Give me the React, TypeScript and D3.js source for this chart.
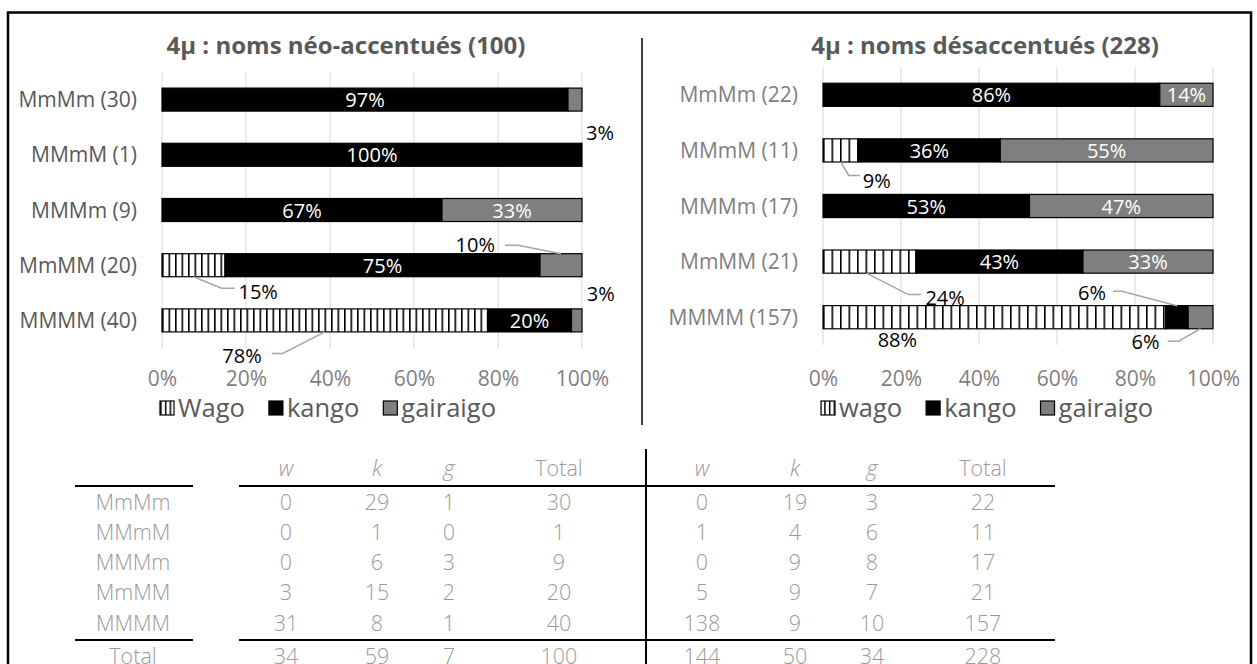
import * as React from 'react';
import * as d3 from 'd3';

const categories: string[] = ['MmMm', 'MMmM', 'MMMm', 'MmMM', 'MMMM'];

// 4μ : noms néo-accentués (100)
const neoWago: number[] = [0, 0, 0, 3, 31];
const neoKango: number[] = [29, 1, 6, 15, 8];
const neoGairaigo: number[] = [1, 0, 3, 2, 1];

// 4μ : noms désaccentués (228)
const desWago: number[] = [0, 1, 0, 5, 138];
const desKango: number[] = [19, 4, 9, 9, 9];
const desGairaigo: number[] = [3, 6, 8, 7, 10];

const tickValues: number[] = [0, 0.2, 0.4, 0.6, 0.8, 1];
const legendNeo: string[] = ['Wago', 'kango', 'gairaigo'];
const legendDes: string[] = ['wago', 'kango', 'gairaigo'];
const tableHeaders: string[] = ['w', 'k', 'g', 'Total'];

const FONT = "'Open Sans', 'DejaVu Sans', sans-serif";

// label placement: offsets from segment centre (x) and bar centre (y)
const neoCallouts: any[] = [
	{ cat: 0, s: 2, anchor: 'middle', dx: 25, dy: 33 },
	{ cat: 3, s: 0, anchor: 'start', dx: 45, dy: 27, leader: [[0, 11.5], [28, 23], [41, 23]] },
	{ cat: 3, s: 2, anchor: 'end', dx: -66, dy: -20, leader: [[0, -11.5], [-43, -20], [-56, -20]] },
	{ cat: 4, s: 0, anchor: 'end', dx: -63, dy: 35, leader: [[0, 11.5], [-42, 33], [-53, 33]] },
	{ cat: 4, s: 2, anchor: 'middle', dx: 24, dy: -27 }
];
const desCallouts: any[] = [
	{ cat: 1, s: 0, anchor: 'start', dx: 22, dy: 30, leader: [[0, 11.5], [8, 25], [19, 25]] },
	{ cat: 3, s: 0, anchor: 'start', dx: 56, dy: 36, leader: [[-3, 11.5], [39, 33], [52, 33]] },
	{ cat: 4, s: 0, anchor: 'middle', dx: -97, dy: 23 },
	{ cat: 4, s: 1, anchor: 'end', dx: -71, dy: -24, leader: [[0, -11.5], [-55, -26], [-64, -26]] },
	{ cat: 4, s: 2, anchor: 'end', dx: -41, dy: 25, leader: [[0, 11.5], [-22, 24], [-33, 24]] }
];

class StackedCharts extends React.Component {
	private svgRef = React.createRef<SVGSVGElement>();

	public render() {
		return (
			<svg
				ref={this.svgRef}
				width={1257}
				height={664}
				style={{ position: 'absolute', left: 0, top: 0, background: '#fff' }}
			/>
		);
	}

	public componentDidMount() {
		const svg = d3.select(this.svgRef.current);
		svg.selectAll('*').remove();
		const defs = svg.append('defs');

		// outer frame
		svg.append('rect')
			.attr('x', 8).attr('y', 12.5)
			.attr('width', 1243).attr('height', 700)
			.attr('fill', 'none').attr('stroke', '#000').attr('stroke-width', 2.5);

		// divider between the two charts
		svg.append('line')
			.attr('x1', 642).attr('x2', 642).attr('y1', 38).attr('y2', 425)
			.attr('stroke', '#000').attr('stroke-width', 1.5);

		this.drawChart(svg, defs, {
			id: 'neo', title: '4μ : noms néo-accentués (100)', titleX: 346,
			x0: 162, x1: 582, y0: 72, y1: 348, stripe: 6.5,
			catColor: '#595959', legend: legendNeo
		}, [neoWago, neoKango, neoGairaigo], neoCallouts);

		this.drawChart(svg, defs, {
			id: 'des', title: '4μ : noms désaccentués (228)', titleX: 985,
			x0: 823, x1: 1213, y0: 67, y1: 345, stripe: 8.5,
			catColor: '#7f7f7f', legend: legendDes
		}, [desWago, desKango, desGairaigo], desCallouts);

		this.drawTable(svg);
	}

	private drawChart(svg: any, defs: any, cfg: any, series: number[][], callouts: any[]) {
		const totals = categories.map((_, i) => series[0][i] + series[1][i] + series[2][i]);
		const rows = categories.map((c, i) => ({ cat: c, i, vals: series.map((s) => s[i]), total: totals[i] }));

		const x = d3.scaleLinear().domain([0, 1]).range([cfg.x0, cfg.x1]);
		const y = d3.scaleBand().domain(categories).range([cfg.y0, cfg.y1]).paddingInner(0.583).paddingOuter(0.2915);
		const bw = y.bandwidth();

		// vertical stripe pattern for wago
		const pat = defs.append('pattern')
			.attr('id', 'stripe-' + cfg.id)
			.attr('patternUnits', 'userSpaceOnUse')
			.attr('width', cfg.stripe).attr('height', 20)
			.attr('patternTransform', `translate(${cfg.x0},0)`);
		pat.append('rect').attr('width', cfg.stripe).attr('height', 20).attr('fill', '#fff');
		pat.append('rect').attr('width', 1.6).attr('height', 20).attr('fill', '#000');
		const fills = [`url(#stripe-${cfg.id})`, '#000', '#7f7f7f'];

		const g = svg.append('g');

		g.append('text')
			.attr('x', cfg.titleX).attr('y', 44)
			.attr('text-anchor', 'middle').attr('dominant-baseline', 'central')
			.attr('font-family', FONT).attr('font-weight', 700).attr('font-size', 24)
			.attr('fill', '#595959')
			.text(cfg.title);

		// gridlines
		g.selectAll('line.grid')
			.data(tickValues)
			.enter().append('line')
			.attr('class', 'grid')
			.attr('x1', (d: number) => x(d)).attr('x2', (d: number) => x(d))
			.attr('y1', cfg.y0).attr('y2', cfg.y1)
			.attr('stroke', '#d9d9d9').attr('stroke-width', 1);

		const stack = d3.stack<any, number>()
			.keys([0, 1, 2])
			.value((d: any, k: number) => d.vals[k] / d.total);
		const stacked = stack(rows);

		stacked.forEach((layer: any, k: number) => {
			g.selectAll(null)
				.data(layer.filter((p: any) => p[1] - p[0] > 0))
				.enter().append('rect')
				.attr('x', (p: any) => x(p[0]))
				.attr('y', (p: any) => y(p.data.cat))
				.attr('width', (p: any) => x(p[1]) - x(p[0]))
				.attr('height', bw)
				.attr('fill', fills[k])
				.attr('stroke', '#000').attr('stroke-width', 1.2);
		});

		// data labels
		stacked.forEach((layer: any, k: number) => {
			layer.forEach((p: any) => {
				const d = p.data;
				if (d.vals[k] <= 0) return;
				const label = Math.round((d.vals[k] / d.total) * 100) + '%';
				const cx = x((p[0] + p[1]) / 2);
				const cy = (y(d.cat) as number) + bw / 2;
				const co = callouts.find((c) => c.cat === d.i && c.s === k);
				if (co) {
					if (co.leader) {
						g.append('polyline')
							.attr('points', co.leader.map((pt: number[]) => `${cx + pt[0]},${cy + pt[1]}`).join(' '))
							.attr('fill', 'none').attr('stroke', '#a6a6a6').attr('stroke-width', 1.5);
					}
					g.append('text')
						.attr('x', cx + co.dx).attr('y', cy + co.dy)
						.attr('text-anchor', co.anchor).attr('dy', '0.36em')
						.attr('font-family', FONT).attr('font-size', 20).attr('fill', '#000')
						.text(label);
				} else if (k !== 0) {
					g.append('text')
						.attr('x', cx).attr('y', cy)
						.attr('text-anchor', 'middle').attr('dy', '0.38em')
						.attr('font-family', FONT).attr('font-size', 20).attr('fill', '#fff')
						.text(label);
				}
			});
		});

		// category labels
		g.selectAll('text.cat')
			.data(rows)
			.enter().append('text')
			.attr('class', 'cat')
			.attr('x', cfg.x0 - 25)
			.attr('y', (d: any) => (y(d.cat) as number) + bw / 2)
			.attr('dy', '0.36em').attr('text-anchor', 'end')
			.attr('font-family', FONT).attr('font-size', 21).attr('fill', cfg.catColor)
			.text((d: any) => `${d.cat} (${d.total})`);

		// x axis labels
		const axis = g.append('g')
			.attr('transform', 'translate(0,378)')
			.call(d3.axisBottom(x).tickValues(tickValues).tickFormat(d3.format('.0%')).tickSize(0).tickPadding(0));
		axis.select('.domain').remove();
		axis.selectAll('text')
			.attr('y', 0).attr('dy', '0.36em')
			.attr('font-family', FONT).attr('font-size', 21).attr('fill', '#7f7f7f');

		// legend
		const lg = g.append('g').attr('transform', `translate(${cfg.x0 - 2},408)`);
		let lx = 0;
		cfg.legend.forEach((name: string, k: number) => {
			lg.append('rect')
				.attr('x', lx).attr('y', -7).attr('width', 14).attr('height', 14)
				.attr('fill', k === 0 ? `url(#stripe-${cfg.id}-lg)` : fills[k])
				.attr('stroke', '#000').attr('stroke-width', 1.2);
			const t = lg.append('text')
				.attr('x', lx + 18).attr('y', 0).attr('dy', '0.36em')
				.attr('font-family', FONT).attr('font-size', 25.5).attr('fill', '#595959')
				.text(name);
			const w = (t.node() as SVGTextElement).getComputedTextLength();
			lx += 18 + w + 24;
		});
		const lp = defs.append('pattern')
			.attr('id', `stripe-${cfg.id}-lg`)
			.attr('patternUnits', 'userSpaceOnUse')
			.attr('width', 4.7).attr('height', 20)
			.attr('patternTransform', `translate(${cfg.x0 - 2},0)`);
		lp.append('rect').attr('width', 4.7).attr('height', 20).attr('fill', '#fff');
		lp.append('rect').attr('width', 1.5).attr('height', 20).attr('fill', '#000');
	}

	private drawTable(svg: any) {
		const tg = svg.append('g')
			.attr('font-family', FONT).attr('font-size', 21.5).attr('font-weight', 300).attr('fill', '#9a9a9a');
		const rowY = d3.scaleBand().domain(categories).range([487, 638]);
		const ry = (c: string) => (rowY(c) as number) + rowY.bandwidth() / 2;

		const blocks = [
			{ cols: [286, 377, 449, 559], data: [neoWago, neoKango, neoGairaigo] },
			{ cols: [702, 795, 872, 983], data: [desWago, desKango, desGairaigo] }
		];

		blocks.forEach((b) => {
			tableHeaders.forEach((h, j) => {
				tg.append('text')
					.attr('x', b.cols[j]).attr('y', 468).attr('dy', '0.36em')
					.attr('text-anchor', 'middle')
					.attr('font-style', j < 3 ? 'italic' : 'normal')
					.text(h);
			});
			const colTotals = [0, 0, 0, 0];
			categories.forEach((c, i) => {
				const vals = b.data.map((s) => s[i]);
				const row = [...vals, d3.sum(vals)];
				row.forEach((v, j) => {
					colTotals[j] += v;
					tg.append('text')
						.attr('x', b.cols[j]).attr('y', ry(c)).attr('dy', '0.36em')
						.attr('text-anchor', 'middle')
						.text(v);
				});
			});
			colTotals.forEach((v, j) => {
				tg.append('text')
					.attr('x', b.cols[j]).attr('y', 656).attr('dy', '0.36em')
					.attr('text-anchor', 'middle')
					.text(v);
			});
		});

		categories.forEach((c) => {
			tg.append('text')
				.attr('x', 133).attr('y', ry(c)).attr('dy', '0.36em')
				.attr('text-anchor', 'middle')
				.text(c);
		});
		tg.append('text')
			.attr('x', 133).attr('y', 656).attr('dy', '0.36em')
			.attr('text-anchor', 'middle')
			.text('Total');

		[486, 640].forEach((ly) => {
			svg.append('line').attr('x1', 75).attr('x2', 193).attr('y1', ly).attr('y2', ly)
				.attr('stroke', '#000').attr('stroke-width', 2);
			svg.append('line').attr('x1', 239).attr('x2', 1055).attr('y1', ly).attr('y2', ly)
				.attr('stroke', '#000').attr('stroke-width', 2);
		});
		svg.append('line').attr('x1', 646).attr('x2', 646).attr('y1', 449).attr('y2', 664)
			.attr('stroke', '#000').attr('stroke-width', 2);
	}
}

export default function App() {
	return <StackedCharts />;
}
